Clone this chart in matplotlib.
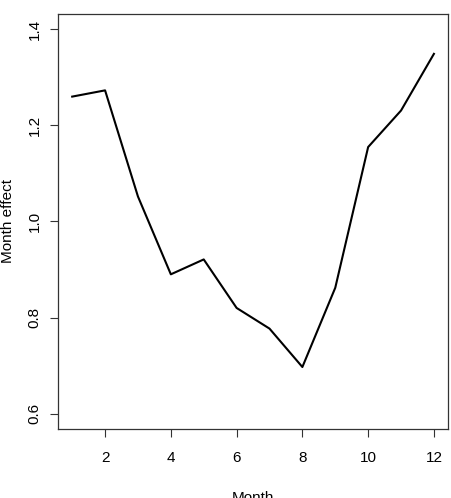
import numpy as np
import matplotlib
matplotlib.use('Agg')
import matplotlib.pyplot as plt

# month effect values
months = [1, 2, 3, 4, 5, 6, 7, 8, 9, 10, 11, 12]
effect = [1.260, 1.273, 1.052, 0.890, 0.921, 0.820, 0.777, 0.697, 0.862, 1.155, 1.231, 1.349]
xticks = [2, 4, 6, 8, 10, 12]
yticks = [0.6, 0.8, 1.0, 1.2, 1.4]

plt.rcParams['font.family'] = ['Liberation Sans', 'DejaVu Sans']

fig = plt.figure(figsize=(4.52, 4.98), dpi=100)
ax = fig.add_axes([0.1277, 0.1386, 0.992 - 0.1277, 0.9719 - 0.1386])
ax.plot(months, effect, color='black', lw=1.5)

ax.set_xlim(0.56, 12.44)
ax.set_ylim(0.568, 1.432)
ax.set_xticks(xticks)
ax.set_yticks(yticks)
ax.set_yticklabels([f'{v:.1f}' for v in yticks], rotation=90, va='center')
ax.tick_params(axis='both', direction='out', length=5.5, width=0.8, labelsize=11, color='#333333')
ax.tick_params(axis='x', pad=10)
ax.tick_params(axis='y', pad=6)
for s in ax.spines.values():
    s.set_linewidth(0.9)
    s.set_color('#333333')

ax.set_xlabel('Month', fontsize=11, labelpad=19)
ax.set_ylabel('Month effect', fontsize=11, labelpad=9)

fig.savefig('out.png', dpi=100)
